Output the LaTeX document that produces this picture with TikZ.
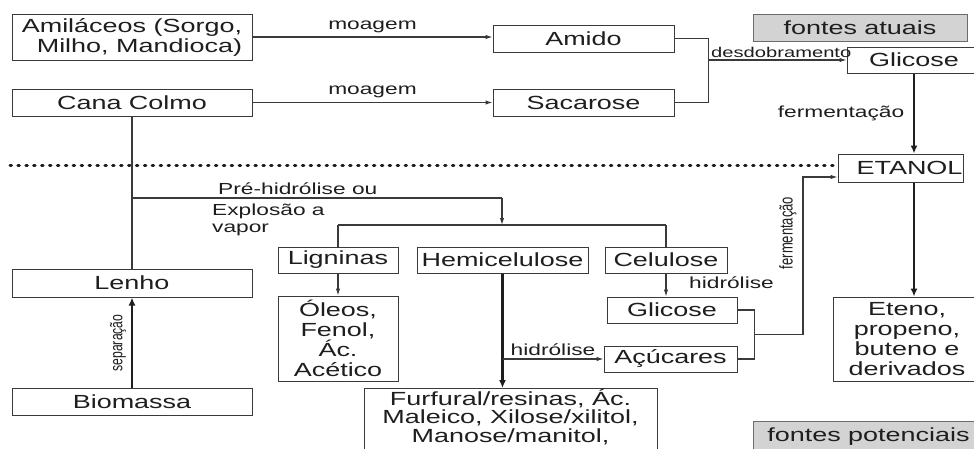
\documentclass[tikz,border=0pt]{standalone}
\usepackage{fontspec}
\usepackage{graphicx}
\usetikzlibrary{arrows.meta,calc}
% wide Arial-like face for the horizontal texts, plain one for the turned labels
\newfontfamily\widefont{Liberation Sans}[FakeStretch=1.42]
\newfontfamily\turnfont{Liberation Sans}
\definecolor{ink}{HTML}{1E1E1E}
\definecolor{edge}{HTML}{3A3A3A}
\definecolor{tagfill}{HTML}{D3D3D3}
\tikzset{
  box/.style={draw=edge, line width=1pt, fill=white, inner sep=0pt, text=ink,
    font=\widefont\fontsize{19}{20}\selectfont, align=center},
  tagbox/.style={box, fill=tagfill, draw=edge!75},
  lab/.style={text=ink, font=\widefont\fontsize{16}{16.5}\selectfont, inner sep=0pt},
  smalllab/.style={text=ink, font=\widefont\fontsize{14.2}{16}\selectfont, inner sep=0pt},
  turnlab/.style={text=ink, inner sep=0pt, rotate=90},
  thinline/.style={draw=edge, line width=1.1pt},
  thinarrow/.style={thinline, -{Latex[length=7pt,width=4.5pt]}},
  thickarrow/.style={draw=ink, line width=2.2pt, -{Latex[length=8pt,width=7pt]}},
  dotline/.style={draw=ink, line width=3pt, line cap=round, dash pattern=on 1.5pt off 6.4pt},
}
\begin{document}
\begin{tikzpicture}[x=1pt, y=-1pt]
\useasboundingbox (0,0) rectangle (974,448);
\fill[white] (0,0) rectangle (974,448);

% ---- current sources (top) ----
\node[box, minimum width=240pt, minimum height=46pt, align=right] (amil) at (132,37) {Amiláceos (Sorgo,\\Milho, Mandioca)};
\node[box, minimum width=240pt, minimum height=27pt] (cana) at (132,102.5) {Cana Colmo};
\node[box, minimum width=181pt, minimum height=27pt] (amido) at (583.5,38.5) {Amido};
\node[box, minimum width=181pt, minimum height=27pt] (sac) at (583.5,102.5) {Sacarose};
\node[tagbox, minimum width=214pt, minimum height=27pt] (atuais) at (860,27.5) {fontes atuais};
\node[box, minimum width=134pt, minimum height=26pt] (glic) at (914,60) {Glicose};
\node[box, minimum width=125pt, minimum height=28pt] (etanol) at (900.5,168) {\hspace*{18pt}ETANOL};
\node[box, minimum width=148pt, minimum height=84pt] (eteno) at (907,339) {Eteno,\\propeno,\\buteno e\\derivados};

% ---- potential sources (bottom) ----
\node[box, minimum width=240pt, minimum height=28pt] (lenho) at (132,283) {Lenho};
\node[box, minimum width=240pt, minimum height=27pt] (bio) at (132,401.5) {Biomassa};
\node[box, minimum width=120pt, minimum height=26pt] (lig) at (338,260) {Ligninas};
\node[box, minimum width=171pt, minimum height=26pt] (hemi) at (502.5,260) {Hemicelulose};
\node[box, minimum width=122pt, minimum height=26pt] (celu) at (666,260) {Celulose};
\node[box, minimum width=120pt, minimum height=85pt] (oleos) at (338,338.5) {Óleos,\\Fenol,\\Ác.\\Acético};
\node[box, minimum width=293pt, minimum height=64pt, anchor=north, text depth=10pt,
      font=\widefont\fontsize{19}{18.5}\selectfont] (furf) at (510.5,388) {Furfural/resinas, Ác.\\Maleico, Xilose/xilitol,\\Manose/manitol,};
\node[box, minimum width=130pt, minimum height=26pt] (glic2) at (672,310) {Glicose};
\node[box, minimum width=133pt, minimum height=26pt] (acuc) at (670.5,359) {Açúcares};
\node[tagbox, minimum width=230pt, minimum height=30pt, anchor=north west] (potenc) at (753,421) {fontes potenciais};

% ---- separator between the two routes ----
\coordinate (d0) at (10,165);
\draw[dotline] (d0) -- (d0 -| etanol.west);

% ---- milling and hydrolysis of the current sources ----
\draw[thinarrow] (amil.east) -- (amil.east -| amido.west) node[lab, midway, above=4pt] {moagem};
\draw[thinarrow] (cana.east) -- (cana.east -| sac.west) node[lab, midway, above=4pt] {moagem};
\draw[thinline] (amido.east) -- ++(34,0) coordinate (j1) -- (j1 |- sac.east) -- (sac.east);
\draw[thinarrow] (glic.west -| j1) -- (glic.west);
\node[smalllab, anchor=base west] (desd) at (711,57) {desdobramento};
\draw[thickarrow] (glic.south) -- (glic.south |- etanol.north);
\node[lab] (ferm1) at (841,113) {fermentação};
\draw[thickarrow] (glic.south |- etanol.south) -- (glic.south |- eteno.north);

% ---- lignocellulosic route ----
\draw[thinline] (cana.south) -- (lenho.north);
\draw[thickarrow] (bio.north) -- (lenho.south);
\node[turnlab] (sep) at (118,343) {\scalebox{1}[1.42]{\turnfont\fontsize{12.2}{12.2}\selectfont separação}};

\coordinate (b0) at (132,198);
\coordinate (b1) at (502,198);
\coordinate (s0) at (502,225);
\draw[thinline] (b0) -- (b1);
\draw[thinarrow] (b1) -- (s0);
\node[lab, anchor=base west] (preh) at (218,194) {Pré-hidrólise ou};
\node[lab, anchor=north west, align=left] (expl) at (212,204) {Explosão a\\vapor};

\draw[thinline] (lig.north |- s0) -- (celu.north |- s0);
\draw[thinline] (lig.north |- s0) -- (lig.north);
\draw[thinline] (celu.north |- s0) -- (celu.north);

\draw[thinarrow] (lig.south) -- (oleos.north);
\draw[thickarrow] (hemi.south) -- (hemi.south |- furf.north);
\draw[thinarrow] (hemi.south |- acuc.west) -- (acuc.west) node[lab, midway, above=3pt] {hidrólise};
\draw[thinarrow] (celu.south) -- (celu.south |- glic2.north);
\node[lab, anchor=west] (hidr2) at (689,283) {hidrólise};

% ---- sugars to ethanol ----
\draw[thinline] (glic2.east) -- ++(17,0) coordinate (j2) -- (j2 |- acuc.east) -- (acuc.east);
\coordinate (j2m) at ($(j2)!0.5!(j2 |- acuc.east)$);
\coordinate (fx) at (803,0);
\coordinate (eIn) at ([yshift=-9pt]etanol.west);
\draw[thinarrow] (j2m) -- (j2m -| fx) -- (fx |- eIn) -- (eIn);
\node[turnlab] (ferm2) at (788,233) {\scalebox{1}[1.42]{\turnfont\fontsize{13}{13}\selectfont fermentação}};
\end{tikzpicture}
\end{document}
